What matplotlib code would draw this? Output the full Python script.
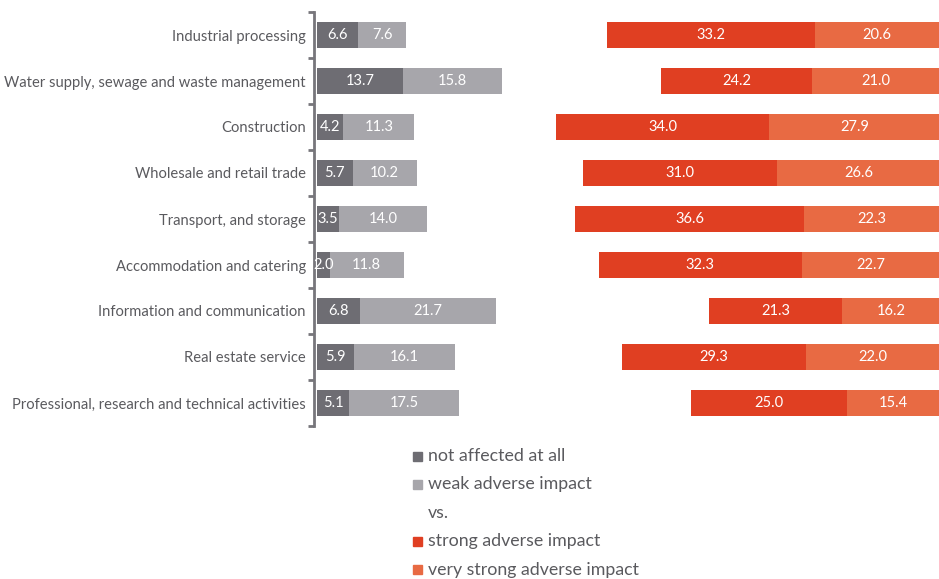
import matplotlib
matplotlib.use("Agg")
import matplotlib.pyplot as plt
from matplotlib.patches import Rectangle
import numpy as np

plt.rcParams['font.family'] = ['Lato', 'DejaVu Sans']

categories = [
    "Industrial processing",
    "Water supply, sewage and waste management",
    "Construction",
    "Wholesale and retail trade",
    "Transport, and storage",
    "Accommodation and catering",
    "Information and communication",
    "Real estate service",
    "Professional, research and technical activities",
]
not_affected = [6.6, 13.7, 4.2, 5.7, 3.5, 2.0, 6.8, 5.9, 5.1]
weak_adverse = [7.6, 15.8, 11.3, 10.2, 14.0, 11.8, 21.7, 16.1, 17.5]
strong_adverse = [33.2, 24.2, 34.0, 31.0, 36.6, 32.3, 21.3, 29.3, 25.0]
very_strong_adverse = [20.6, 21.0, 27.9, 26.6, 22.3, 22.7, 16.2, 22.0, 15.4]

c_dark = "#6e6d73"
c_light = "#a7a6ab"
c_red = "#e03f22"
c_orange = "#e86a43"
text_col = "#5a5a5e"

fig = plt.figure(figsize=(9.39, 5.79), dpi=100)
# the 100 % end of the axis sits just past the right edge of the canvas
ax = fig.add_axes([317 / 939, 1 - 426 / 579, 627 / 939, 414 / 579])

y = np.arange(len(categories))
h = 0.57
na = np.array(not_affected)
wa = np.array(weak_adverse)
sa = np.array(strong_adverse)
vs = np.array(very_strong_adverse)

ax.barh(y, na, height=h, color=c_dark, edgecolor="none")
ax.barh(y, wa, left=na, height=h, color=c_light, edgecolor="none")
right_start = 100 - sa - vs
ax.barh(y, sa, left=right_start, height=h, color=c_red, edgecolor="none")
ax.barh(y, vs, left=right_start + sa, height=h, color=c_orange, edgecolor="none")

lab_kw = dict(ha="center", va="center", color="white", fontsize=10.5)
for i in range(len(categories)):
    ax.text(na[i] / 2, y[i], f"{na[i]:.1f}", **lab_kw)
    ax.text(na[i] + wa[i] / 2, y[i], f"{wa[i]:.1f}", **lab_kw)
    ax.text(right_start[i] + sa[i] / 2, y[i], f"{sa[i]:.1f}", **lab_kw)
    ax.text(right_start[i] + sa[i] + vs[i] / 2 - 0.35, y[i], f"{vs[i]:.1f}", **lab_kw)

ax.set_xlim(0, 100)
ax.set_ylim(len(categories) - 0.5, -0.5)
ax.set_yticks(y)
ax.set_yticks(np.arange(-0.5, len(categories)), minor=True)
ax.set_yticklabels(categories)
ax.tick_params(axis="y", which="major", length=0, pad=6, labelsize=10.6,
               labelcolor=text_col)
ax.tick_params(axis="y", which="minor", length=4, width=2, color="#77767b")
ax.set_xticks([])
for s in ["top", "right", "bottom"]:
    ax.spines[s].set_visible(False)
ax.spines["left"].set_color("#77767b")
ax.spines["left"].set_linewidth(2)
ax.spines["left"].set_position(("outward", 2))

# legend block
legend_items = [
    (c_dark, "not affected at all"),
    (c_light, "weak adverse impact"),
    (None, "vs."),
    (c_red, "strong adverse impact"),
    (c_orange, "very strong adverse impact"),
]
y0 = 456
dy = 28.4
for k, (col, txt) in enumerate(legend_items):
    yy = 1 - (y0 + k * dy) / 579
    if col is not None:
        fig.patches.append(Rectangle((413 / 939, yy - 4.5 / 579), 9 / 939, 9 / 579,
                                     transform=fig.transFigure, color=col))
    fig.text(428 / 939, yy, txt, ha="left", va="center", fontsize=12.8, color=text_col)

fig.savefig("out.png", dpi=100)
